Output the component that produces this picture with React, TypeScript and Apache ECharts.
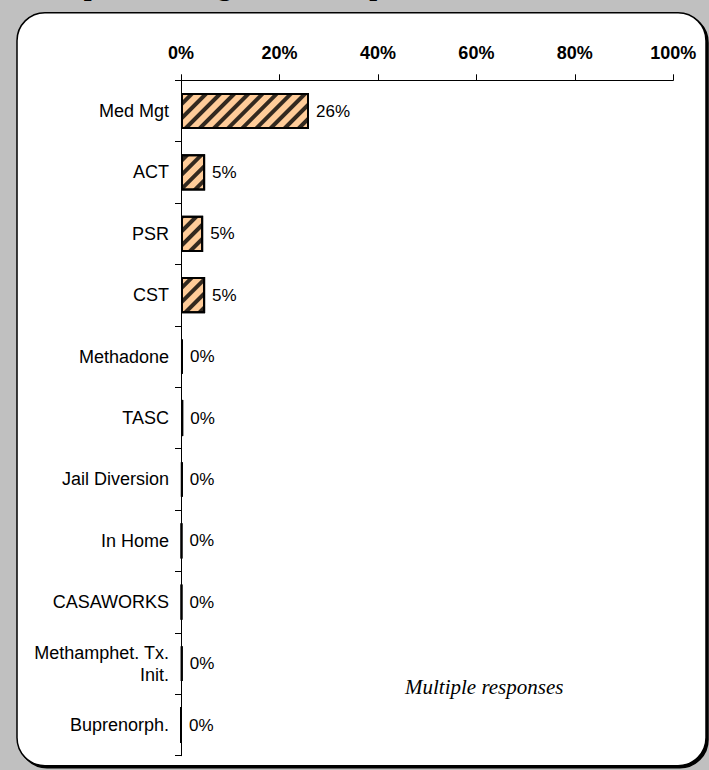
import React, { useEffect, useRef } from "react";
import * as echarts from "echarts";

const categories = [
  "Med Mgt",
  "ACT",
  "PSR",
  "CST",
  "Methadone",
  "TASC",
  "Jail Diversion",
  "In Home",
  "CASAWORKS",
  "Methamphet. Tx.\nInit.",
  "Buprenorph.",
];
const values = [26, 4.9, 4.5, 4.9, 0.4, 0.45, 0.35, 0.2, 0.2, 0.3, 0];
const xTicks = [0, 20, 40, 60, 80, 100];
const titleText = "Outpatient Program Participation";
const noteText = "Multiple responses";

const sans = "Liberation Sans, Arial, sans-serif";

export default function App() {
  const ref = useRef<HTMLDivElement>(null);
  useEffect(() => {
    if (!ref.current) return;
    const chart = echarts.init(ref.current, null, { renderer: "svg" });
    chart.setOption({
      animation: false,
      backgroundColor: "#c0c0c0",
      grid: { left: 181, right: 35.7, top: 80.3, bottom: 14.3, containLabel: false },
      xAxis: {
        type: "value",
        position: "top",
        min: xTicks[0],
        max: xTicks[xTicks.length - 1],
        interval: 20,
        splitLine: { show: false },
        axisLine: { show: true, lineStyle: { color: "#000", width: 1 } },
        axisTick: { show: true, length: 6, lineStyle: { color: "#000" } },
        axisLabel: {
          formatter: "{value}%",
          fontFamily: sans,
          fontWeight: "bold",
          fontSize: 18,
          color: "#000",
          margin: 18,
        },
      },
      yAxis: {
        type: "category",
        inverse: true,
        data: categories,
        axisLine: { show: true, lineStyle: { color: "#000", width: 1 } },
        axisTick: { show: true, length: 6, lineStyle: { color: "#000" } },
        axisLabel: {
          fontFamily: sans,
          fontSize: 18,
          color: "#000",
          margin: 12,
          lineHeight: 22,
          align: "right",
        },
      },
      series: [
        {
          type: "bar",
          data: values,
          barCategoryGap: "41%",
          itemStyle: {
            color: "#FFCC99",
            borderColor: "#000",
            borderWidth: 2,
            decal: {
              symbol: "rect",
              symbolSize: 1,
              dashArrayX: [[1, 0]],
              dashArrayY: [4, 5.5],
              rotation: -Math.PI / 4,
              color: "rgba(0,0,0,0.8)",
            },
          },
          label: {
            show: true,
            position: "right",
            distance: 7,
            formatter: (p: any) => Math.round(p.value) + "%",
            fontFamily: sans,
            fontSize: 17,
            color: "#000",
          },
        },
      ],
      graphic: [
        {
          type: "rect",
          z: -10,
          shape: { x: 17, y: 12.7, width: 689, height: 753, r: 28 },
          style: {
            fill: "#fff",
            stroke: "#000",
            lineWidth: 1.5,
            shadowColor: "#000",
            shadowOffsetX: 2,
            shadowOffsetY: 2,
            shadowBlur: 0,
          },
        },
        {
          type: "text",
          z: -20,
          x: 37,
          y: -15,
          style: {
            text: titleText,
            font: "bold 28px 'Liberation Serif', 'Times New Roman', serif",
            fill: "#000",
            verticalAlign: "middle",
          },
        },
        {
          type: "text",
          z: 10,
          x: 405,
          y: 687,
          style: {
            text: noteText,
            font: "italic 21px 'Liberation Serif', 'Times New Roman', serif",
            fill: "#000",
            verticalAlign: "middle",
          },
        },
      ],
    });
    return () => chart.dispose();
  }, []);
  return (
    <div
      ref={ref}
      style={{ position: "fixed", left: 0, top: 0, width: 709, height: 770 }}
    />
  );
}
